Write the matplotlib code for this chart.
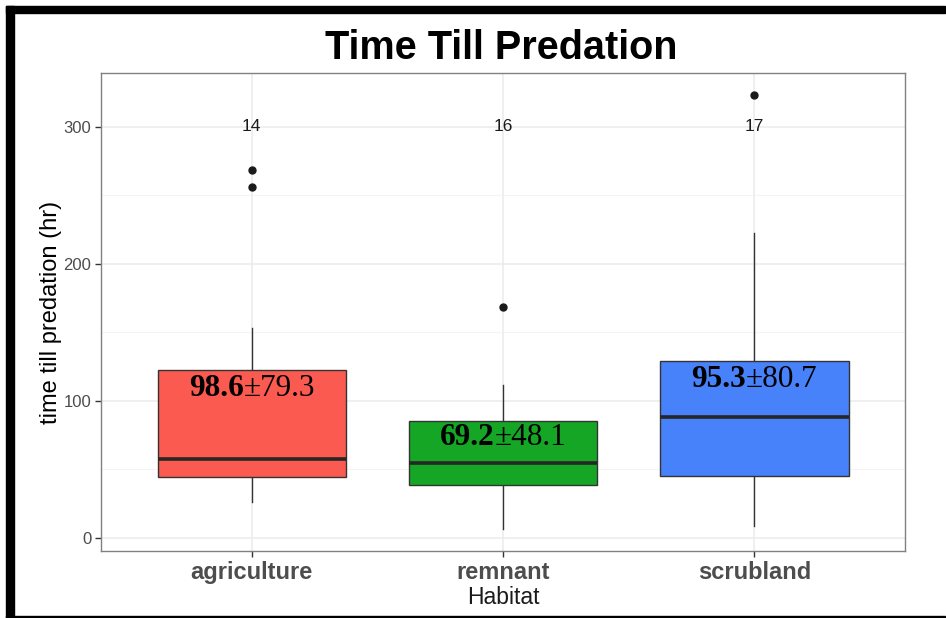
import matplotlib
matplotlib.use('Agg')
import matplotlib.pyplot as plt
import matplotlib.transforms as mtransforms
from matplotlib.patches import Rectangle

# data
habitats = ['agriculture', 'remnant', 'scrubland']
q1 = [44.5, 38.7, 45.0]
medians = [57.7, 54.7, 88.0]
q3 = [122.6, 85.4, 129.0]
whisk_lo = [26.0, 6.6, 8.8]
whisk_hi = [153.0, 112.0, 222.6]
outliers = [[256.0, 268.6], [168.6], [323.0]]
counts = [14, 16, 17]
means = ['98.6', '69.2', '95.3']
sds = ['79.3', '48.1', '80.7']
label_y = [109, 73.5, 116]
colors = ['#FB5A50', '#16A626', '#4782FA']

fig = plt.figure(figsize=(9.46, 6.18), dpi=100)
ax = fig.add_axes([0.1068, 0.1084, 0.8499, 0.7735])

stats = []
for i in range(len(habitats)):
    stats.append(dict(med=medians[i], q1=q1[i], q3=q3[i], whislo=whisk_lo[i],
                      whishi=whisk_hi[i], fliers=outliers[i]))

pos = [1, 2, 3]
bp = ax.bxp(stats, positions=pos, widths=0.75, showcaps=False, patch_artist=True,
            boxprops=dict(edgecolor='#333333', linewidth=1.0),
            medianprops=dict(color='#262626', linewidth=2.6),
            whiskerprops=dict(color='#333333', linewidth=1.0),
            flierprops=dict(marker='o', markerfacecolor='#1a1a1a', markeredgecolor='#1a1a1a',
                            markersize=5))
for b, c in zip(bp['boxes'], colors):
    b.set_facecolor(c)
    b.set_zorder(3)
for m in bp['medians']:
    m.set_zorder(4)

# counts on top
for p, n in zip(pos, counts):
    ax.text(p, 300, str(n), ha='center', va='center', fontsize=12.5, color='#1a1a1a',
            family='Liberation Sans', zorder=5)

# mean ± sd labels, bold mean then regular sd
pairs = []
for p, m, s, y in zip(pos, means, sds, label_y):
    t1 = ax.text(p, y, m, ha='right', va='center', fontsize=22.5, fontweight='bold',
                 family='Liberation Serif', color='black', zorder=6)
    t2 = ax.annotate('±' + s, xy=(1, 0.5), xycoords=t1, ha='left', va='center',
                     fontsize=22.5, family='Liberation Serif', color='black', zorder=6)
    pairs.append((t1, t2, p, y))

ax.set_xlim(0.4, 3.6)
ax.set_ylim(-9.5, 339.4)
ax.set_xticks(pos)
ax.set_xticklabels(habitats, fontsize=17, fontweight='bold', color='#4D4D4D',
                   family='Liberation Sans')
ax.set_yticks([0, 100, 200, 300])
ax.set_yticklabels(['0', '100', '200', '300'], fontsize=12, color='#4D4D4D',
                   family='Liberation Sans')
ax.set_yticks([50, 150, 250], minor=True)
ax.tick_params(axis='both', which='major', length=4, width=1, color='#333333', pad=3)
ax.tick_params(axis='y', which='minor', length=0)
ax.grid(True, which='major', color='#EBEBEB', linewidth=1.1, zorder=0)
ax.grid(True, which='minor', axis='y', color='#F2F2F2', linewidth=0.6, zorder=0)
ax.set_axisbelow(True)
for sp in ax.spines.values():
    sp.set_color('#808080')
    sp.set_linewidth(1.0)

ax.set_ylabel('time till predation (hr)', fontsize=17, family='Liberation Sans',
              color='black', labelpad=1)
ax.set_xlabel('Habitat', fontsize=16.5, family='Liberation Sans', color='#1a1a1a',
              labelpad=1.5)
fig.text(0.530, 0.923, 'Time Till Predation', ha='center', va='center', fontsize=28.5,
         fontweight='bold', family='Liberation Sans', color='black')

# black frame pieces
fig.patches.append(Rectangle((6 / 946, 0), 8 / 946, 612 / 618, transform=fig.transFigure,
                             color='black', zorder=10))
fig.patches.append(Rectangle((6 / 946, 1 - 13 / 618), 939 / 946, 7 / 618,
                             transform=fig.transFigure, color='black', zorder=10))
fig.patches.append(Rectangle((6 / 946, 0), 939 / 946, 2 / 618, transform=fig.transFigure,
                             color='black', zorder=10))

# center the combined mean±sd labels
fig.canvas.draw()
for t1, t2, p, y in pairs:
    w1 = t1.get_window_extent().width
    w2 = t2.get_window_extent().width
    t1.set_transform(mtransforms.offset_copy(ax.transData, fig=fig, x=(w1 - w2) / 2,
                                             y=0, units='dots'))

fig.savefig('out.png', dpi=100)
